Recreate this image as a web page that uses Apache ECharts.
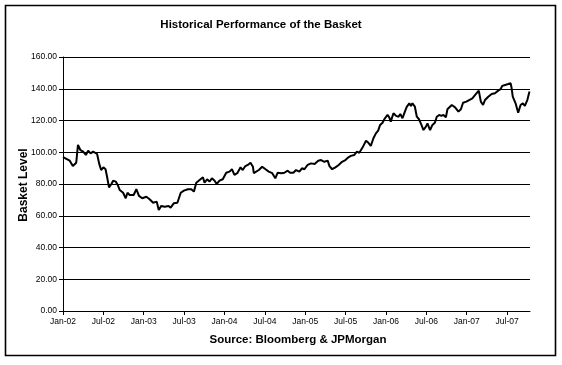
<!DOCTYPE html>
<html>
<head>
<meta charset="utf-8">
<script src="https://cdn.jsdelivr.net/npm/echarts@6/dist/echarts.min.js"></script>
<style>
html,body{margin:0;padding:0;background:#fff;}
#c{width:562px;height:365px;}
</style>
</head>
<body>
<div id="c"></div>
<script>
// ---- data ----
var dates = [
'2002-01-01','2002-01-10','2002-02-01','2002-02-14','2002-02-28','2002-03-08','2002-03-19','2002-04-01','2002-04-13','2002-04-23',
'2002-05-04','2002-05-16','2002-05-25','2002-06-03','2002-06-12','2002-06-21','2002-07-01','2002-07-11','2002-07-18','2002-07-27',
'2002-08-07','2002-08-15','2002-08-27','2002-09-05','2002-09-14','2002-09-29','2002-10-11','2002-10-19','2002-10-29','2002-11-16',
'2002-11-28','2002-12-10','2002-12-25','2003-01-13','2003-01-28','2003-02-12','2003-02-27','2003-03-08','2003-03-20','2003-04-04',
'2003-04-22','2003-05-01','2003-05-16','2003-06-01','2003-06-16','2003-06-30','2003-07-18','2003-08-03','2003-08-15','2003-08-26',
'2003-09-10','2003-09-25','2003-10-02','2003-10-14','2003-10-25','2003-11-05','2003-11-17','2003-11-26','2003-12-09','2003-12-24',
'2004-01-09','2004-01-24','2004-02-04','2004-02-15','2004-02-27','2004-03-13','2004-03-23','2004-04-04','2004-04-15','2004-04-27',
'2004-05-08','2004-05-12','2004-05-20','2004-06-04','2004-06-19','2004-07-04','2004-07-19','2004-08-04','2004-08-18','2004-08-29',
'2004-09-14','2004-09-28','2004-10-13','2004-10-24','2004-11-08','2004-11-20','2004-12-05','2004-12-17','2004-12-28','2005-01-12',
'2005-01-28','2005-02-12','2005-02-27','2005-03-12','2005-03-27','2005-04-11','2005-04-19','2005-05-01','2005-05-16','2005-05-31',
'2005-06-15','2005-06-30','2005-07-14','2005-07-25','2005-08-10','2005-08-22','2005-09-02','2005-09-17','2005-10-02','2005-10-12',
'2005-10-24','2005-11-05','2005-11-16','2005-11-26','2005-12-05','2005-12-16','2005-12-27','2006-01-08','2006-01-16','2006-01-23',
'2006-02-04','2006-02-15','2006-02-25','2006-03-05','2006-03-15','2006-03-26','2006-04-04','2006-04-15','2006-04-22','2006-04-29',
'2006-05-10','2006-05-19','2006-05-29','2006-06-09','2006-06-18','2006-06-29','2006-07-06','2006-07-18','2006-07-29','2006-08-09',
'2006-08-18','2006-08-29','2006-09-08','2006-09-17','2006-09-28','2006-10-05','2006-10-25','2006-11-09','2006-11-24','2006-12-05',
'2006-12-15','2006-12-30','2007-01-12','2007-01-27','2007-02-08','2007-02-23','2007-03-04','2007-03-14','2007-03-23','2007-04-07',
'2007-04-22','2007-05-07','2007-05-22','2007-06-02','2007-06-09','2007-06-22','2007-07-06','2007-07-17','2007-07-21','2007-07-27',
'2007-08-09','2007-08-21','2007-09-01','2007-09-11','2007-09-20','2007-10-01','2007-10-11'
];
var basketLevel = [
97.0,96.8,94.7,91.3,93.4,104.6,101.4,100.4,98.3,101.0,
99.3,100.4,101.0,98.9,93.0,88.8,90.5,89.3,84.6,77.9,
80.0,82.1,81.5,79.4,76.2,74.5,71.0,74.5,73.1,73.1,
76.7,72.5,71.0,72.0,70.4,68.2,68.9,63.6,66.2,65.7,
66.2,65.1,67.9,68.2,74.5,75.8,76.7,76.7,75.2,80.8,
82.5,84.2,80.8,83.0,81.5,83.6,82.1,80.0,82.1,83.0,
87.1,87.8,89.3,85.7,86.8,90.5,88.8,91.3,92.0,93.4,
90.9,86.8,85.7,88.8,90.9,89.3,87.8,86.8,83.6,87.1,
86.8,87.1,88.4,87.1,87.1,88.8,87.8,89.9,89.3,92.0,
93.0,92.6,94.7,95.1,94.0,94.7,91.3,89.3,90.5,92.0,
94.0,95.1,96.8,97.7,98.3,100.4,99.7,103.1,107.3,106.1,
104.0,108.8,111.9,113.6,117.2,118.6,121.4,123.5,122.0,119.3,
124.6,122.9,122.4,124.1,121.4,125.6,128.7,130.8,129.2,130.8,
128.7,122.4,120.8,117.2,114.0,116.1,118.2,114.0,117.2,118.6,
122.4,123.5,122.9,123.5,122.0,127.1,129.8,128.3,125.6,127.1,
131.2,131.9,132.9,134.0,136.1,138.8,131.9,129.8,132.9,135.0,
136.7,137.2,138.8,139.7,141.8,142.4,143.0,143.5,141.0,135.0,
130.8,124.9,129.8,130.8,129.2,132.9,138.2
];
var xTickMonths = [0,6,12,18,24,30,36,42,48,54,60,66];
var xTickLabels = ['Jan-02','Jul-02','Jan-03','Jul-03','Jan-04','Jul-04','Jan-05','Jul-05','Jan-06','Jul-06','Jan-07','Jul-07'];
var xEndMonth = 69.4;
var yTicks = [0,20,40,60,80,100,120,140,160];

// months elapsed since Jan 1 2002
function monthsSince(d){
  var p = d.split('-').map(Number);
  var dim = new Date(p[0], p[1], 0).getDate();
  return (p[0]-2002)*12 + (p[1]-1) + (p[2]-1)/dim;
}
var seriesData = dates.map(function(d,i){ return [monthsSince(d), basketLevel[i]]; });

var FONT = '"Liberation Sans", Arial, sans-serif';
var chart = echarts.init(document.getElementById('c'), null, {renderer:'canvas'});
chart.setOption({
  animation:false,
  backgroundColor:'#fff',
  graphic:[
    {type:'rect', shape:{x:5.5,y:5.5,width:550,height:350}, style:{fill:'none', stroke:'#000', lineWidth:1.6}, silent:true, z:-1},
    {type:'text', style:{text:'Historical Performance of the Basket', x:261, y:25, textAlign:'center', textVerticalAlign:'middle', font:'bold 11.5px ' + FONT, fill:'#000'}},
    {type:'text', style:{text:'Source: Bloomberg & JPMorgan', x:298, y:340, textAlign:'center', textVerticalAlign:'middle', font:'bold 11.5px ' + FONT, fill:'#000'}},
    {type:'text', rotation:Math.PI/2, x:24, y:185, style:{text:'Basket Level', x:0, y:0, textAlign:'center', textVerticalAlign:'middle', font:'bold 12px ' + FONT, fill:'#000'}}
  ],
  grid:{left:63, right:32, top:57, bottom:54, containLabel:false},
  xAxis:{
    type:'value', min:0, max:xEndMonth,
    axisLine:{show:true, lineStyle:{color:'#000', width:1}},
    axisTick:{show:true, length:4, customValues:xTickMonths, lineStyle:{color:'#000'}},
    axisLabel:{
      customValues:xTickMonths,
      margin:6,
      fontFamily:FONT, fontSize:8.5, color:'#000',
      formatter:function(v){ var i = xTickMonths.indexOf(Math.round(v)); return i>=0 ? xTickLabels[i] : ''; }
    },
    splitLine:{show:false}
  },
  yAxis:{
    type:'value', min:0, max:160, interval:20,
    axisLine:{show:true, lineStyle:{color:'#000', width:1}},
    axisTick:{show:true, length:4, lineStyle:{color:'#000'}},
    axisLabel:{margin:6, fontFamily:FONT, fontSize:8.5, color:'#000', formatter:function(v){return v.toFixed(2);}},
    splitLine:{show:true, lineStyle:{color:'#000', width:1}}
  },
  series:[{
    type:'line', data:seriesData, showSymbol:false, symbol:'none',
    lineStyle:{color:'#000', width:2}, z:5
  }]
});
</script>
</body>
</html>
